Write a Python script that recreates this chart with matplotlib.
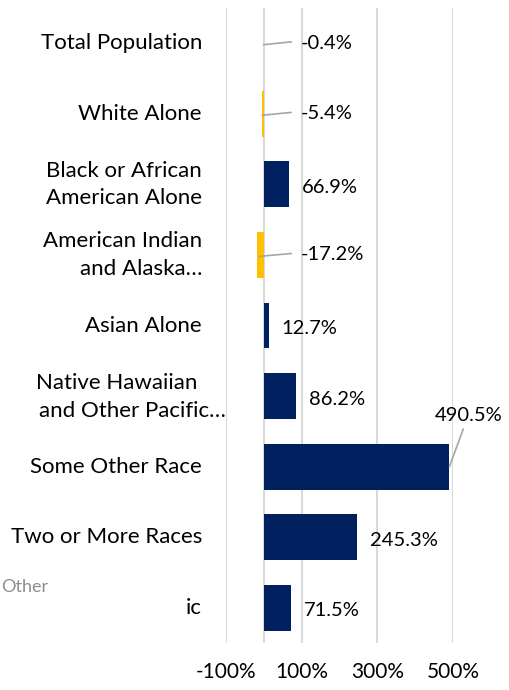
import matplotlib.pyplot as plt
import numpy as np

categories = ['Total Population', 'White Alone', 'Black or African\nAmerican Alone',
              'American Indian\nand Alaska…', 'Asian Alone',
              'Native Hawaiian\nand Other Pacific…', 'Some Other Race',
              'Two or More Races', 'ic']
values = [-0.4, -5.4, 66.9, -17.2, 12.7, 86.2, 490.5, 245.3, 71.5]
tick_values = [-100, 100, 300, 500]
tick_labels = ['-100%', '100%', '300%', '500%']

navy = '#002060'
gold = '#FFC000'
grid_c = '#D9D9D9'
lead_c = '#A6A6A6'
cat_fs = 16
lab_fs = 14.5

plt.rcParams['font.family'] = ['Lato', 'DejaVu Sans']

fig = plt.figure(figsize=(5.09, 6.90), dpi=100)
ax = fig.add_axes([226 / 509, 1 - 643 / 690, (453 - 226) / 509, (643 - 8) / 690])

y = np.arange(len(categories))
colors = [navy if v >= 0 else gold for v in values]
ax.barh(y, values, height=0.65, color=colors, zorder=3)

ax.set_xlim(-100, 500)
ax.set_ylim(len(categories) - 0.5, -0.5)
for xv in tick_values + [0]:
    ax.axvline(xv, color=grid_c, lw=1.5, zorder=1)
for s in ax.spines.values():
    s.set_visible(False)
ax.set_xticks(tick_values)
ax.set_xticklabels(tick_labels, fontsize=15)
ax.tick_params(axis='x', length=0, pad=14)
ax.set_yticks([])

# category labels
for i, lab in enumerate(categories):
    if lab.startswith('Native'):
        l1, l2 = lab.split('\n')
        ax.annotate(l1, (0, i), xycoords=('axes fraction', 'data'), xytext=(-29, 13),
                    textcoords='offset pixels', ha='right', va='center', fontsize=cat_fs)
        ax.annotate(l2, (0, i), xycoords=('axes fraction', 'data'), xytext=(0, -15),
                    textcoords='offset pixels', ha='right', va='center', fontsize=cat_fs)
    else:
        ax.annotate(lab, (0, i), xycoords=('axes fraction', 'data'), xytext=(-24, 0),
                    textcoords='offset pixels', ha='right', va='center', fontsize=cat_fs,
                    linespacing=1.45)

# data labels
for i, v in enumerate(values):
    txt = f'{v:.1f}%'
    if v < 0:
        ax.annotate(txt, (v, i), xytext=(98, i), ha='left', va='center', fontsize=lab_fs,
                    zorder=4)
        ax.plot([v * 0.7, 72], [i + 0.02, i - 0.02], color=lead_c, lw=1.2, zorder=4)
    elif v > 400:
        ax.annotate(txt, (v, i), xytext=(19, 43), textcoords='offset pixels',
                    ha='center', va='bottom', fontsize=lab_fs,
                    arrowprops=dict(arrowstyle='-', color=lead_c, lw=1.2,
                                    shrinkA=2, shrinkB=0))
    else:
        ax.annotate(txt, (v, i), xytext=(13, -3), textcoords='offset pixels',
                    ha='left', va='center', fontsize=lab_fs)

fig.text(1 / 509, 1 - 587 / 690, 'Other', color='#8C8C8C', fontsize=13,
         ha='left', va='center')

fig.savefig('out.png', dpi=100)
